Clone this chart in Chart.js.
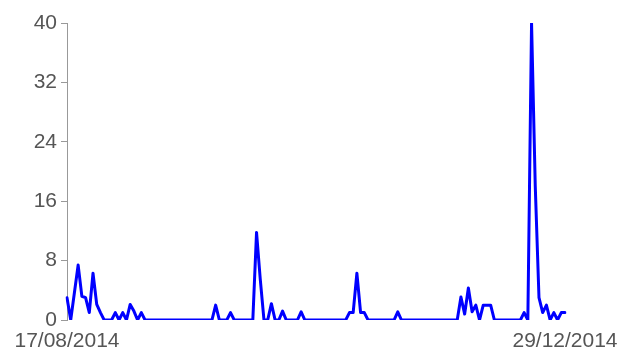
<!DOCTYPE html>
<html>
<head>
<meta charset="utf-8">
<script src="https://cdn.jsdelivr.net/npm/chart.js@4/dist/chart.umd.min.js"></script>
<style>
  html, body { margin: 0; padding: 0; background: #fff; }
  #wrap { width: 621px; height: 349px; }
</style>
</head>
<body>
<div id="wrap"><canvas id="c" width="621" height="349"></canvas></div>
<script>
// Daily dates from 17/08/2014 to 29/12/2014
const startDate = [2014, 7, 17];   // year, month(0-based), day
const dayCount = 135;
const yTicks = [0, 8, 16, 24, 32, 40];
const values = [
  3, 0, 3.7, 7.4, 3.2, 3, 1, 6.3, 2.1, 1,
  0, 0, 0, 1, 0, 1, 0, 2.1, 1.2, 0,
  1, 0, 0, 0, 0, 0, 0, 0, 0, 0,
  0, 0, 0, 0, 0, 0, 0, 0, 0, 0,
  2, 0, 0, 0, 1, 0, 0, 0, 0, 0,
  0, 11.8, 5.5, 0, 0, 2.2, 0, 0, 1.2, 0,
  0, 0, 0, 1.1, 0, 0, 0, 0, 0, 0,
  0, 0, 0, 0, 0, 0, 1, 1, 6.3, 1,
  1, 0, 0, 0, 0, 0, 0, 0, 0, 1.1,
  0, 0, 0, 0, 0, 0, 0, 0, 0, 0,
  0, 0, 0, 0, 0, 0, 3.1, 0.8, 4.3, 1.1,
  2, 0, 2, 2, 2, 0, 0, 0, 0, 0,
  0, 0, 0, 1, 0, 40, 18, 3, 1, 2,
  0, 1, 0, 1, 1
];

function pad(n) { return (n < 10 ? '0' : '') + n; }
const categories = [];
for (let i = 0; i < dayCount; i++) {
  const d = new Date(startDate[0], startDate[1], startDate[2] + i);
  categories.push(pad(d.getDate()) + '/' + pad(d.getMonth() + 1) + '/' + d.getFullYear());
}
const xTickLabels = [categories[0], categories[categories.length - 1]];

const labelFont = { family: '"Liberation Sans", Arial, sans-serif', size: 21 };

new Chart(document.getElementById('c'), {
  type: 'line',
  data: {
    labels: categories,
    datasets: [{
      data: values,
      borderColor: '#0000ff',
      borderWidth: 3,
      borderJoinStyle: 'round',
      borderCapStyle: 'round',
      pointRadius: 0,
      tension: 0,
      fill: false
    }]
  },
  options: {
    responsive: false,
    animation: false,
    layout: { padding: { top: 23, right: 56, left: 0, bottom: 0 } },
    plugins: { legend: { display: false }, tooltip: { enabled: false } },
    scales: {
      x: {
        type: 'category',
        offset: false,
        grid: { display: false },
        border: { display: false },
        ticks: {
          autoSkip: false,
          maxRotation: 0,
          minRotation: 0,
          padding: 1,
          color: '#555',
          font: labelFont,
          callback: function (v, i) {
            if (i === 0) return xTickLabels[0];
            if (i === categories.length - 1) return xTickLabels[1];
            return '';
          }
        },
        afterFit: function (s) { s.height = 29; }
      },
      y: {
        min: yTicks[0],
        max: yTicks[yTicks.length - 1],
        afterBuildTicks: function (s) { s.ticks = yTicks.map(v => ({ value: v })); },
        grid: { drawOnChartArea: false, drawTicks: true, tickLength: 6, color: '#999' },
        border: { display: true, color: '#999', width: 1 },
        ticks: { padding: 4, color: '#555', font: labelFont },
        afterFit: function (s) { s.width = 67; }
      }
    }
  }
});
</script>
</body>
</html>
